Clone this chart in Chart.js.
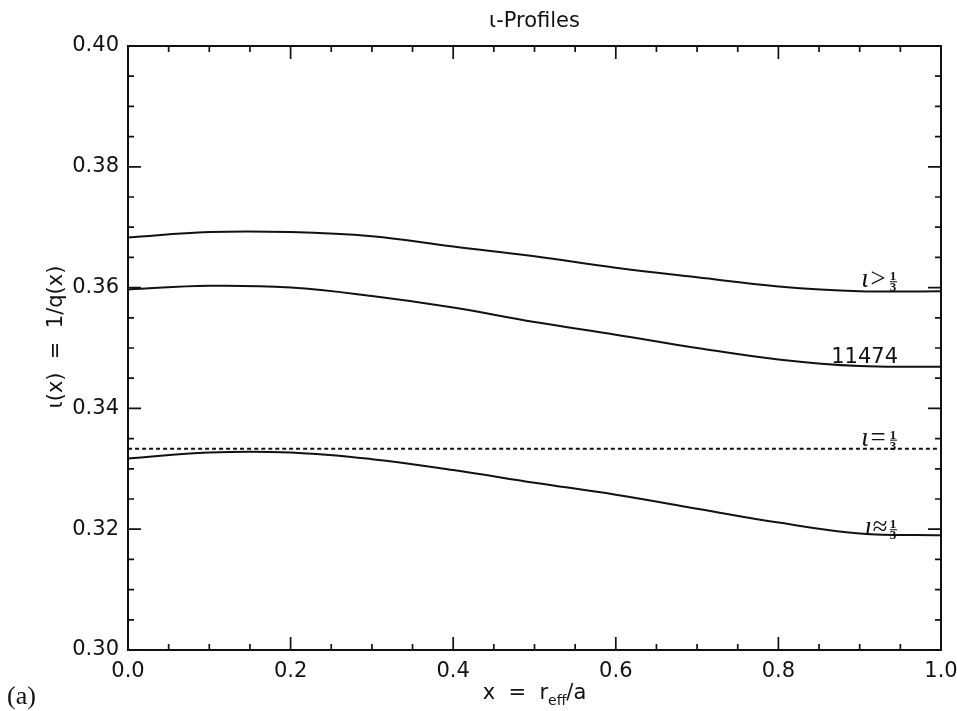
<!DOCTYPE html>
<html>
<head>
<meta charset="utf-8">
<title>ι-Profiles</title>
<script src="https://cdn.jsdelivr.net/npm/chart.js@4.4.0/dist/chart.umd.min.js"></script>
<style>
html,body{margin:0;padding:0;background:#fff;}
#wrap{width:957px;height:711px;}
</style>
</head>
<body>
<div id="wrap"><canvas id="iotaChart" width="957" height="711"></canvas></div>
<script>
// radial coordinate x = r_eff/a
const xs = [0.0, 0.1, 0.2, 0.3, 0.4, 0.5, 0.6, 0.7, 0.8, 0.9, 1.0];
// rotational transform profiles
const iotaAbove = [0.3683, 0.3692, 0.3692, 0.3685, 0.3668, 0.3652, 0.3633, 0.3617, 0.3602, 0.3594, 0.3594];
const iota11474 = [0.3597, 0.3603, 0.3600, 0.3586, 0.3567, 0.3543, 0.3522, 0.3500, 0.3481, 0.3470, 0.3469];
const iotaNear  = [0.3317, 0.3327, 0.3327, 0.3316, 0.3298, 0.3277, 0.3257, 0.3234, 0.3211, 0.3193, 0.3190];
const iotaThird = 1 / 3;

const xTickLabels = ['0.0', '0.2', '0.4', '0.6', '0.8', '1.0'];
const yTickLabels = ['0.30', '0.32', '0.34', '0.36', '0.38', '0.40'];

// labels written at the right end of each curve
const curveTags = [
  { set: 0, rel: 'ι>', frac: true, dy: -4 },
  { set: 1, text: '11474', dy: -4 },
  { set: 2, rel: 'ι=', frac: true, dy: -3 },
  { set: 3, rel: 'ι≈', frac: true, dy: 0 }
];

const pts = ys => xs.map((x, i) => ({ x, y: ys[i] }));
const INK = '#111';

function drawFracTag(ctx, rel, right, base) {
  ctx.font = 'italic 27px "Liberation Serif"';
  ctx.textAlign = 'right';
  ctx.textBaseline = 'alphabetic';
  ctx.fillText(rel, right - 11, base);
  ctx.font = 'bold 13px "Liberation Serif"';
  ctx.textAlign = 'center';
  const cx = right - 5;
  ctx.fillText('1', cx, base - 7);
  ctx.fillText('3', cx, base + 4);
  ctx.fillRect(cx - 3, base - 6, 7, 1);
}

const frame = {
  id: 'frame',
  afterDraw(chart) {
    const { ctx, chartArea: a, scales: { x, y } } = chart;
    ctx.save();
    ctx.strokeStyle = INK;
    ctx.fillStyle = INK;
    ctx.lineWidth = 2;
    ctx.strokeRect(a.left, a.top, a.right - a.left, a.bottom - a.top);

    // inward ticks on all four sides
    ctx.lineWidth = 1.7;
    ctx.beginPath();
    for (let i = 0; i <= 20; i++) {
      const px = x.getPixelForValue(i * 0.05);
      const len = i % 4 === 0 ? 13 : 6;
      ctx.moveTo(px, a.bottom); ctx.lineTo(px, a.bottom - len);
      ctx.moveTo(px, a.top); ctx.lineTo(px, a.top + len);
    }
    for (let i = 0; i <= 20; i++) {
      const py = y.getPixelForValue(0.30 + i * 0.005);
      const len = i % 4 === 0 ? 13 : 6;
      ctx.moveTo(a.left, py); ctx.lineTo(a.left + len, py);
      ctx.moveTo(a.right, py); ctx.lineTo(a.right - len, py);
    }
    ctx.stroke();

    // curve tags
    const right = a.right - 43;
    curveTags.forEach(t => {
      const data = chart.data.datasets[t.set].data;
      const base = y.getPixelForValue(data[data.length - 1].y) + t.dy;
      if (t.frac) {
        drawFracTag(ctx, t.rel, right, base);
      } else {
        ctx.font = '21px "DejaVu Sans"';
        ctx.textAlign = 'right';
        ctx.textBaseline = 'alphabetic';
        ctx.fillText(t.text, right, base);
      }
    });

    // title
    ctx.font = '21px "DejaVu Sans"';
    ctx.textAlign = 'center';
    ctx.textBaseline = 'alphabetic';
    ctx.fillText('ι-Profiles', (a.left + a.right) / 2, 27);

    // y axis title
    ctx.save();
    ctx.translate(57, 337);
    ctx.rotate(-Math.PI / 2);
    ctx.textBaseline = 'middle';
    ctx.font = '21px "DejaVu Sans"';
    ctx.fillText('ι(x)  =  1/q(x)', 0, 0);
    ctx.restore();

    // x axis title with subscript
    const parts = [['x  =  r', '21px "DejaVu Sans"', 0], ['eff', '14px "DejaVu Sans"', 6], ['/a', '21px "DejaVu Sans"', 0]];
    let w = 0;
    parts.forEach(p => { ctx.font = p[1]; w += ctx.measureText(p[0]).width; });
    let cx = (a.left + a.right) / 2 - w / 2;
    ctx.textAlign = 'left';
    parts.forEach(p => {
      ctx.font = p[1];
      ctx.fillText(p[0], cx, 699 + p[2]);
      cx += ctx.measureText(p[0]).width;
    });

    // panel letter
    ctx.font = '26px "Liberation Serif"';
    ctx.fillText('(a)', 7, 704);
    ctx.restore();
  }
};

const line = (data, dash) => ({
  data, showLine: true, pointRadius: 0, borderColor: INK, borderWidth: 2,
  borderDash: dash || [], tension: 0.4, fill: false
});

new Chart(document.getElementById('iotaChart'), {
  type: 'scatter',
  data: {
    datasets: [
      line(pts(iotaAbove)),
      line(pts(iota11474)),
      line([{ x: 0, y: iotaThird }, { x: 1, y: iotaThird }], [4, 3]),
      line(pts(iotaNear))
    ]
  },
  options: {
    responsive: false,
    animation: false,
    layout: { padding: { top: 46, right: 16, left: 0, bottom: 0 } },
    plugins: { legend: { display: false }, tooltip: { enabled: false } },
    scales: {
      x: {
        type: 'linear', min: 0, max: 1,
        grid: { display: false, drawTicks: false },
        border: { display: false },
        afterFit: s => { s.height = 61; s.paddingLeft = 0; s.paddingRight = 0; },
        ticks: {
          stepSize: 0.2, autoSkip: false, maxRotation: 0, padding: 9,
          color: INK, font: { family: 'DejaVu Sans', size: 21 },
          callback: (v, i) => xTickLabels[i]
        }
      },
      y: {
        type: 'linear', min: 0.30, max: 0.40,
        grid: { display: false, drawTicks: false },
        border: { display: false },
        afterFit: s => { s.width = 128; s.paddingTop = 0; s.paddingBottom = 0; },
        ticks: {
          stepSize: 0.02, autoSkip: false, padding: 9,
          color: INK, font: { family: 'DejaVu Sans', size: 21 },
          callback: (v, i) => yTickLabels[i]
        }
      }
    }
  },
  plugins: [frame]
});
</script>
</body>
</html>
